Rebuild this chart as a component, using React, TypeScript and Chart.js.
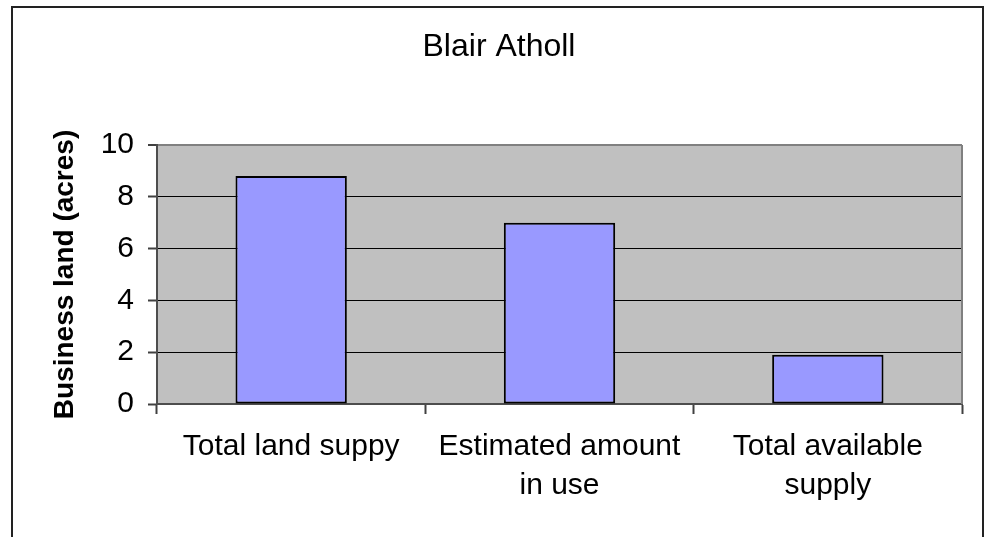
import React, { useEffect, useRef } from "react";
import { Chart, registerables } from "chart.js";

Chart.register(...registerables);

const chartTitle = "Blair Atholl";
const yAxisTitle = "Business land (acres)";
const categories: string[][] = [
  ["Total land suppy"],
  ["Estimated amount", "in use"],
  ["Total available", "supply"],
];
const acres = [8.8, 7.0, 1.9];
const yMin = 0;
const yMax = 10;
const yStep = 2;

const FONT = "'Liberation Sans', Arial, sans-serif";

const plotBg = {
  id: "plotBg",
  beforeDraw(chart: any) {
    const { ctx, chartArea } = chart;
    if (!chartArea) return;
    ctx.save();
    ctx.fillStyle = "#C0C0C0";
    ctx.fillRect(chartArea.left, chartArea.top, chartArea.right - chartArea.left, chartArea.bottom - chartArea.top);
    ctx.restore();
  },
  afterDatasetsDraw(chart: any) {
    const { ctx, chartArea } = chart;
    ctx.save();
    ctx.strokeStyle = "#808080";
    ctx.lineWidth = 2;
    ctx.beginPath();
    ctx.moveTo(chartArea.right, chartArea.top);
    ctx.lineTo(chartArea.right, chartArea.bottom);
    ctx.stroke();
    ctx.restore();
  },
};

export default function App() {
  const ref = useRef<HTMLCanvasElement | null>(null);

  useEffect(() => {
    if (!ref.current) return;
    const chart = new Chart(ref.current, {
      type: "bar",
      data: {
        labels: categories,
        datasets: [
          {
            label: yAxisTitle,
            data: acres,
            backgroundColor: "#9999FF",
            borderColor: "#000000",
            borderWidth: 2,
            borderSkipped: false,
            categoryPercentage: 1,
            barPercentage: 0.415,
          },
        ],
      },
      options: {
        responsive: false,
        animation: false,
        layout: { padding: { left: 36, right: 24, top: 0, bottom: 0 } },
        plugins: {
          legend: { display: false },
          tooltip: { enabled: false },
          title: {
            display: true,
            text: chartTitle,
            color: "#000",
            font: { family: FONT, size: 32, weight: "normal", lineHeight: 1.2 },
            padding: { top: 28, bottom: 78.6 },
          },
        },
        scales: {
          x: {
            afterFit: (scale: any) => {
              scale.height = 133;
            },
            grid: {
              display: true,
              drawOnChartArea: false,
              drawTicks: true,
              offset: true,
              tickLength: 10,
              tickColor: "#404040",
              tickWidth: 2,
            },
            border: { display: true, color: "#4d4d4d", width: 2 },
            ticks: {
              color: "#000",
              padding: 14,
              maxRotation: 0,
              autoSkip: false,
              font: { family: FONT, size: 30, lineHeight: 1.28 },
            },
          },
          y: {
            min: yMin,
            max: yMax,
            afterFit: (scale: any) => {
              scale.width = 121;
            },
            grid: {
              color: (c: any) => (c.tick && c.tick.value === yMax ? "#808080" : "#000000"),
              lineWidth: (c: any) => (c.tick && c.tick.value === yMax ? 2 : 1),
              drawTicks: true,
              tickLength: 9,
              tickColor: "#404040",
              tickWidth: 2,
            },
            border: { display: true, color: "#4d4d4d", width: 2 },
            ticks: {
              stepSize: yStep,
              color: "#000",
              padding: 14,
              font: { family: FONT, size: 30 },
            },
            title: {
              display: true,
              text: yAxisTitle,
              color: "#000",
              padding: { top: 12, bottom: 0 },
              font: { family: FONT, size: 28, weight: "bold", lineHeight: 1.2 },
            },
          },
        },
      },
      plugins: [plotBg],
    });
    return () => chart.destroy();
  }, []);

  return (
    <div
      style={{
        position: "fixed",
        left: 0,
        top: 0,
        width: 986,
        height: 537,
        overflow: "hidden",
        background: "#fff",
      }}
    >
      <canvas ref={ref} width={986} height={537} style={{ position: "absolute", left: 0, top: 0, width: 986, height: 537 }} />
      <div
        style={{
          position: "absolute",
          left: 11,
          top: 6,
          width: 973,
          height: 600,
          boxSizing: "border-box",
          border: "2px solid #222",
          pointerEvents: "none",
        }}
      />
    </div>
  );
}
